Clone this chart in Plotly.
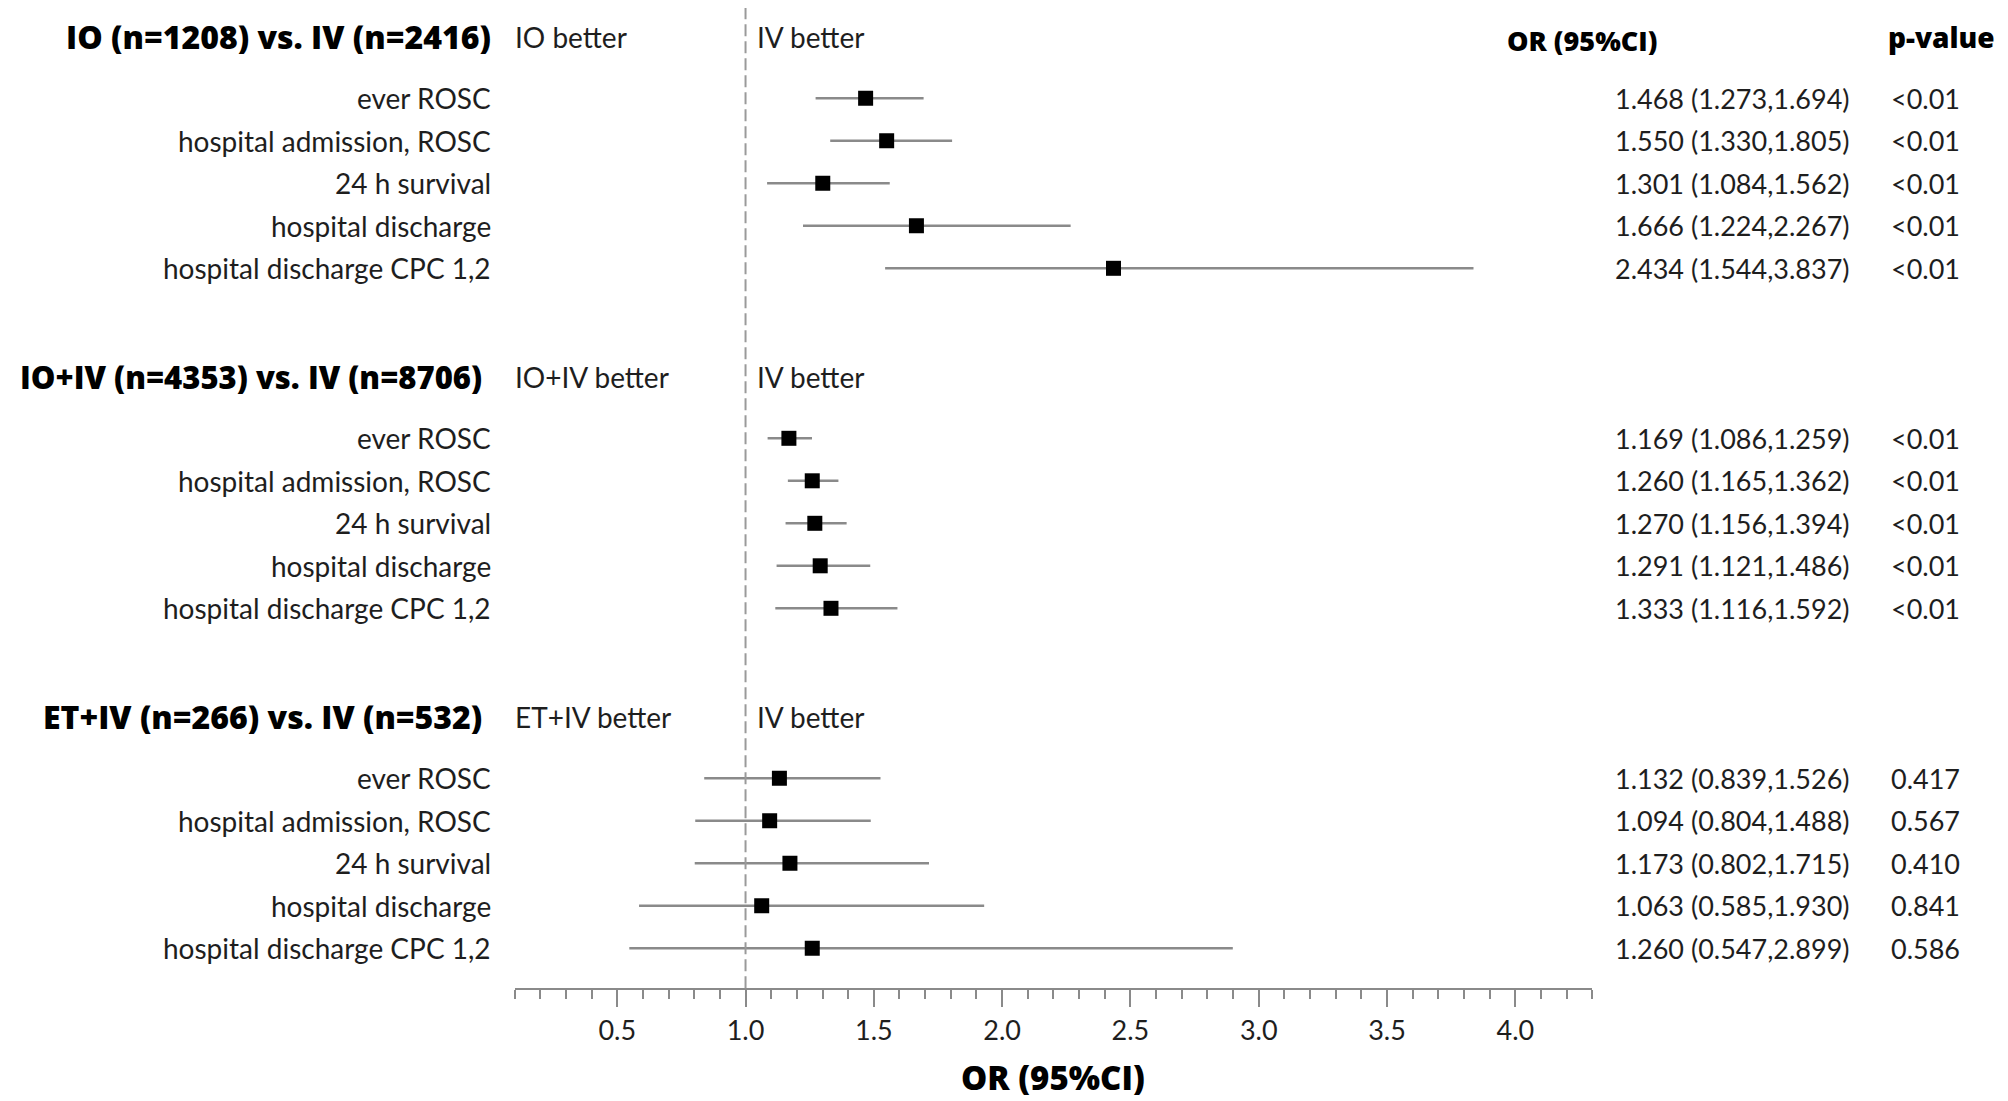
import plotly.graph_objects as go

# ---------------- data ----------------
group_titles = ["IO (n=1208) vs. IV (n=2416)",
                "IO+IV (n=4353) vs. IV (n=8706)",
                "ET+IV (n=266) vs. IV (n=532)"]
left_better = ["IO better", "IO+IV better", "ET+IV better"]
right_better = "IV better"
outcomes = ["ever ROSC", "hospital admission, ROSC", "24 h survival",
            "hospital discharge", "hospital discharge CPC 1,2"]

or_io = [1.468, 1.550, 1.301, 1.666, 2.434]
lo_io = [1.273, 1.330, 1.084, 1.224, 1.544]
hi_io = [1.694, 1.805, 1.562, 2.267, 3.837]
p_io = ["<0.01", "<0.01", "<0.01", "<0.01", "<0.01"]

or_ioiv = [1.169, 1.260, 1.270, 1.291, 1.333]
lo_ioiv = [1.086, 1.165, 1.156, 1.121, 1.116]
hi_ioiv = [1.259, 1.362, 1.394, 1.486, 1.592]
p_ioiv = ["<0.01", "<0.01", "<0.01", "<0.01", "<0.01"]

or_etiv = [1.132, 1.094, 1.173, 1.063, 1.260]
lo_etiv = [0.839, 0.804, 0.802, 0.585, 0.547]
hi_etiv = [1.526, 1.488, 1.715, 1.930, 2.899]
p_etiv = ["0.417", "0.567", "0.410", "0.841", "0.586"]

tick_vals = [0.5, 1.0, 1.5, 2.0, 2.5, 3.0, 3.5, 4.0]
tick_text = ["0.5", "1.0", "1.5", "2.0", "2.5", "3.0", "3.5", "4.0"]

groups = [(or_io, lo_io, hi_io, p_io),
          (or_ioiv, lo_ioiv, hi_ioiv, p_ioiv),
          (or_etiv, lo_etiv, hi_etiv, p_etiv)]

# ---------------- layout constants ----------------
OFF = 8  # default body margin of the html page
W, H = 2008 - OFF, 1101 - OFF
FONT = "Lato"
BFONT = "Open Sans"
TXT = "#1e1e1e"
FS = 28
FSN = 27
GROUP_STEP = 8
HEADER_OFF = -1.45
ROW0_PX = 98.3 - OFF
ROW_PX = 42.5
AXIS_PX = 988.3 - OFF
X_LEFT_PX, X_RIGHT_PX = 514.6 - OFF, 1592.3 - OFF


def px_x(p):
    return (p - OFF) / W


y_top = -ROW0_PX / ROW_PX
y_bot = (AXIS_PX - ROW0_PX) / ROW_PX
y_dom0 = (H - AXIS_PX) / H

fig = go.Figure()
annotations = []

header_right_px = [492.5, 484, 484]
header_size = [32, 31, 32]

for g, (ors, los, his, ps) in enumerate(groups):
    base = g * GROUP_STEP
    ys = [base + r for r in range(len(ors))]
    fig.add_trace(go.Scatter(
        x=ors, y=ys, mode="markers",
        marker=dict(symbol="square", size=15, color="black"),
        error_x=dict(type="data", symmetric=False,
                     array=[h - o for h, o in zip(his, ors)],
                     arrayminus=[o - l for o, l in zip(ors, los)],
                     width=0, thickness=2.5, color="#8a8a8a"),
        showlegend=False, hoverinfo="skip"))
    hy = base + HEADER_OFF
    annotations.append(dict(text=group_titles[g], xref="paper", yref="y",
                            x=px_x(header_right_px[g]), y=hy, xanchor="right", yanchor="middle",
                            showarrow=False,
                            font=dict(family=BFONT, size=header_size[g], color="black", weight=800)))
    annotations.append(dict(text=left_better[g], xref="paper", yref="y",
                            x=px_x(513), y=hy, xanchor="left", yanchor="middle",
                            showarrow=False, font=dict(family=FONT, size=FS, color=TXT)))
    annotations.append(dict(text=right_better, xref="paper", yref="y",
                            x=px_x(755), y=hy, xanchor="left", yanchor="middle",
                            showarrow=False, font=dict(family=FONT, size=FS, color=TXT)))
    for r, name in enumerate(outcomes):
        y = base + r
        annotations.append(dict(text=name, xref="paper", yref="y",
                                x=px_x(492.5), y=y, xanchor="right", yanchor="middle",
                                showarrow=False, font=dict(family=FONT, size=FS, color=TXT)))
        annotations.append(dict(text=f"{ors[r]:.3f} ({los[r]:.3f},{his[r]:.3f})",
                                xref="paper", yref="y",
                                x=px_x(1852), y=y, xanchor="right", yanchor="middle",
                                showarrow=False, font=dict(family=FONT, size=FSN, color=TXT)))
        annotations.append(dict(text=ps[r], xref="paper", yref="y",
                                x=px_x(1889), y=y, xanchor="left", yanchor="middle",
                                showarrow=False, font=dict(family=FONT, size=FSN, color=TXT)))

annotations.append(dict(text="OR (95%CI)", xref="paper", yref="y",
                        x=px_x(1582), y=HEADER_OFF + 0.08, xanchor="center", yanchor="middle",
                        showarrow=False, font=dict(family=BFONT, size=27, color="black", weight=800)))
annotations.append(dict(text="p-value", xref="paper", yref="y",
                        x=px_x(1886), y=HEADER_OFF, xanchor="left", yanchor="middle",
                        showarrow=False, font=dict(family=BFONT, size=28, color="black", weight=800)))
annotations.append(dict(text="OR (95%CI)", xref="paper", yref="paper",
                        x=0.5 * (px_x(X_LEFT_PX + OFF) + px_x(X_RIGHT_PX + OFF)),
                        y=(H - (1077 - OFF)) / H,
                        xanchor="center", yanchor="middle",
                        showarrow=False, font=dict(family=BFONT, size=33, color="black", weight=800)))

fig.add_shape(type="line", xref="x", yref="paper", x0=1.0, x1=1.0,
              y0=y_dom0, y1=1.0,
              line=dict(color="#9a9a9a", width=2, dash="12px,5px"))

fig.update_layout(
    width=W, height=H,
    margin=dict(l=0, r=0, t=0, b=0),
    paper_bgcolor="white", plot_bgcolor="white",
    annotations=annotations,
    xaxis=dict(domain=[(X_LEFT_PX) / W, (X_RIGHT_PX) / W], range=[0.1, 4.3],
               showgrid=False, zeroline=False, showline=True, linecolor="#8a8a8a", linewidth=2,
               tickmode="array", tickvals=tick_vals, ticktext=tick_text,
               ticks="outside", ticklen=17, tickwidth=2, tickcolor="#8a8a8a",
               tickfont=dict(family=FONT, size=FSN, color=TXT),
               minor=dict(dtick=0.1, tick0=0.1, ticks="outside", ticklen=9,
                          tickwidth=2, tickcolor="#8a8a8a", showgrid=False),
               fixedrange=True),
    yaxis=dict(domain=[y_dom0, 1], range=[y_bot, y_top], visible=False, fixedrange=True),
)

fig.write_html("out.html")
